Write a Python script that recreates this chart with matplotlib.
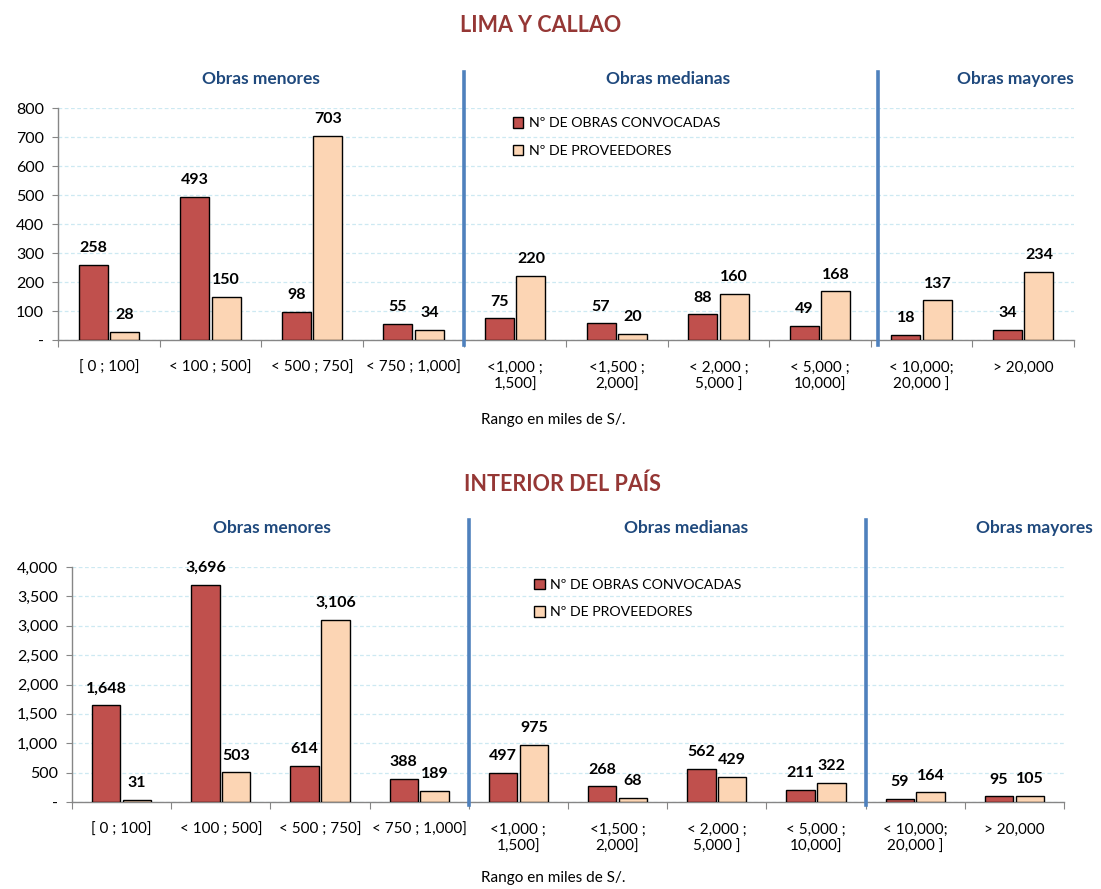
import numpy as np
import matplotlib
matplotlib.use("Agg")
import matplotlib.pyplot as plt
from matplotlib.ticker import FuncFormatter, FixedLocator

plt.rcParams['font.family'] = ['Lato', 'DejaVu Sans']

categories = ["[ 0 ; 100]", "< 100 ; 500]", "< 500 ; 750]", "< 750 ; 1,000]",
              "<1,000 ;\n1,500]", "<1,500 ;\n2,000]", "< 2,000 ;\n5,000 ]",
              "< 5,000 ;\n10,000]", "< 10,000;\n20,000 ]", "> 20,000"]
lima_obras = [258, 493, 98, 55, 75, 57, 88, 49, 18, 34]
lima_prov = [28, 150, 703, 34, 220, 20, 160, 168, 137, 234]
int_obras = [1648, 3696, 614, 388, 497, 268, 562, 211, 59, 95]
int_prov = [31, 503, 3106, 189, 975, 68, 429, 322, 164, 105]
groups = ["Obras menores", "Obras medianas", "Obras mayores"]
series_names = ["Nº DE OBRAS CONVOCADAS", "Nº DE PROVEEDORES"]

RED = "#C0504D"
PEACH = "#FCD5B4"
BLUE = "#4F81BD"
NAVY = "#1F497D"
TITLE_RED = "#953735"
GRID = "#CDE9F2"
AXIS = "#868686"

fig = plt.figure(figsize=(11.01, 8.89), dpi=100)

W, H = 1101, 889


def panel(rect_px, obras, prov, ymax, ystep, sep_x, group_x, group_y, sep_y, leg_xy, xlab_xy):
    x0, y0, x1, y1 = rect_px
    ax = fig.add_axes([x0 / W, 1 - y1 / H, (x1 - x0) / W, (y1 - y0) / H])
    x = np.arange(len(categories))
    w = 0.285
    ax.bar(x - 0.155, obras, w, color=RED, edgecolor="black", linewidth=1.0,
           label=series_names[0], zorder=3)
    ax.bar(x + 0.155, prov, w, color=PEACH, edgecolor="black", linewidth=1.0,
           label=series_names[1], zorder=3)
    for xi, v in zip(x - 0.155, obras):
        ax.annotate(f"{v:,}", (xi, v), xytext=(0, 7), textcoords="offset points",
                    ha="center", va="bottom", fontsize=11.5, fontweight="bold")
    for xi, v in zip(x + 0.155, prov):
        ax.annotate(f"{v:,}", (xi, v), xytext=(0, 7), textcoords="offset points",
                    ha="center", va="bottom", fontsize=11.5, fontweight="bold")

    ax.set_xlim(-0.5, len(categories) - 0.5)
    ax.set_ylim(0, ymax)
    ax.yaxis.set_major_locator(FixedLocator(np.arange(0, ymax + 1, ystep)))
    ax.yaxis.set_major_formatter(FuncFormatter(lambda v, p: f"{v:,.0f}" if v else "-"))
    ax.tick_params(axis="y", labelsize=11.5, length=4, color=AXIS, direction="out", pad=6)

    ax.xaxis.set_major_locator(FixedLocator(np.arange(-0.5, len(categories), 1.0)))
    ax.xaxis.set_major_formatter(FuncFormatter(lambda v, p: ""))
    ax.set_xticks(x, minor=True)
    ax.set_xticklabels(categories, minor=True, fontsize=11, linespacing=1.25)
    ax.tick_params(axis="x", which="major", length=5, color=AXIS, direction="out")
    ax.tick_params(axis="x", which="minor", length=0, pad=15)
    for lab in ax.get_xticklabels(minor=True):
        lab.set_verticalalignment("top")

    for s in ["top", "right"]:
        ax.spines[s].set_visible(False)
    for s in ["left", "bottom"]:
        ax.spines[s].set_color(AXIS)
        ax.spines[s].set_linewidth(1.0)

    ax.yaxis.grid(True, color=GRID, linestyle=(0, (3, 2)), linewidth=0.9, zorder=0)
    ax.set_axisbelow(True)

    for sx in sep_x:
        ax.plot([sx, sx], sep_y, transform=ax.get_xaxis_transform(), color=BLUE,
                linewidth=2.6, clip_on=False, zorder=4)
    for g, gx in zip(groups, group_x):
        ax.text(gx, group_y, g, transform=ax.get_xaxis_transform(), ha="center",
                va="center", fontsize=12.5, fontweight="bold", color=NAVY)

    ax.legend(loc="upper left", bbox_to_anchor=leg_xy, frameon=False, fontsize=10.2,
              handlelength=0.75, handleheight=0.75, handletextpad=0.4,
              labelspacing=1.1, borderaxespad=0)
    ax.text(xlab_xy[0], xlab_xy[1], "Rango en miles de S/.", transform=ax.transAxes,
            ha="center", va="center", fontsize=11)
    return ax


fig.text(541 / W, 1 - 25 / H, "LIMA Y CALLAO", ha="center", va="center",
         fontsize=15.5, fontweight="bold", color=TITLE_RED)
panel((58, 108, 1074, 340), lima_obras, lima_prov, 800, 100,
      sep_x=[3.5, 7.57], group_x=[1.5, 5.5, 8.92], group_y=1.125,
      sep_y=[-0.02, 1.155], leg_xy=(0.442, 0.985), xlab_xy=(0.487, -0.345))

fig.text(562 / W, 1 - 484 / H, "INTERIOR DEL PAÍS", ha="center", va="center",
         fontsize=15.5, fontweight="bold", color=TITLE_RED)
panel((72, 567, 1064, 802), int_obras, int_prov, 4000, 500,
      sep_x=[3.5, 7.5], group_x=[1.52, 5.69, 9.2], group_y=1.166,
      sep_y=[-0.013, 1.2], leg_xy=(0.46, 0.975), xlab_xy=(0.485, -0.323))

fig.savefig("out.png", dpi=100)
